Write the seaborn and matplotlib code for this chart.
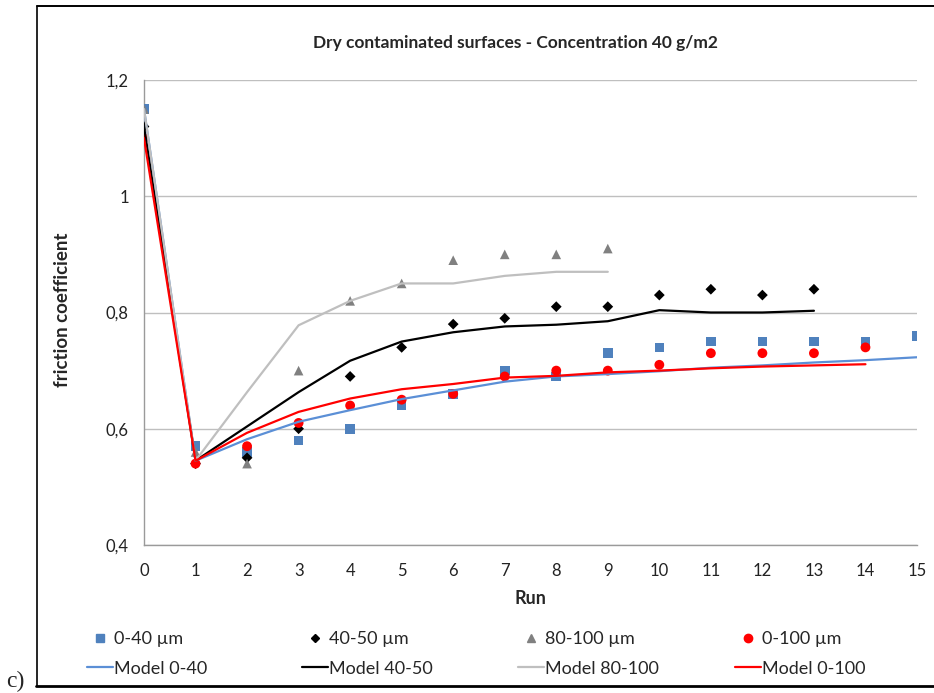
import matplotlib
matplotlib.use("Agg")
import matplotlib.pyplot as plt
from matplotlib.lines import Line2D
import seaborn as sns
import pandas as pd
import numpy as np

# ---------------- data ----------------
runs_040 = list(range(0, 16))
meas_040 = [1.15, 0.57, 0.56, 0.58, 0.60, 0.64, 0.66, 0.70, 0.69, 0.73, 0.74, 0.75, 0.75, 0.75, 0.75, 0.76]
model_040 = [1.15, 0.545, 0.582, 0.612, 0.632, 0.651, 0.666, 0.681, 0.690, 0.694, 0.699, 0.705, 0.709, 0.714, 0.718, 0.723]

runs_4050 = list(range(0, 14))
meas_4050 = [1.12, 0.54, 0.55, 0.60, 0.69, 0.74, 0.78, 0.79, 0.81, 0.81, 0.83, 0.84, 0.83, 0.84]
model_4050 = [1.12, 0.545, 0.604, 0.663, 0.717, 0.750, 0.766, 0.776, 0.779, 0.785, 0.804, 0.800, 0.800, 0.803]

runs_80100 = list(range(0, 10))
meas_80100 = [1.15, 0.56, 0.54, 0.70, 0.82, 0.85, 0.89, 0.90, 0.90, 0.91]
model_80100 = [1.15, 0.545, 0.663, 0.778, 0.820, 0.850, 0.850, 0.863, 0.870, 0.870]

runs_0100 = list(range(0, 15))
meas_0100 = [1.10, 0.54, 0.57, 0.61, 0.64, 0.65, 0.66, 0.69, 0.70, 0.70, 0.71, 0.73, 0.73, 0.73, 0.74]
model_0100 = [1.10, 0.545, 0.593, 0.629, 0.652, 0.668, 0.677, 0.688, 0.691, 0.697, 0.700, 0.704, 0.707, 0.709, 0.711]

meas_labels = ["0-40 µm", "40-50 µm", "80-100 µm", "0-100 µm"]
model_labels = ["Model 0-40", "Model 40-50", "Model 80-100", "Model 0-100"]
yticks = [0.4, 0.6, 0.8, 1.0, 1.2]
ytick_labels = ["0,4", "0,6", "0,8", "1", "1,2"]
xticks = list(range(0, 16))

title = "Dry contaminated surfaces - Concentration 40 g/m2"

# ---------------- styling ----------------
sns.set_theme(style="white")
plt.rcParams["font.family"] = ["Lato", "DejaVu Sans"]

meas_colors = ["#4F81BD", "#000000", "#808080", "#FF0000"]
model_colors = ["#5B8FD6", "#000000", "#BFBFBF", "#FF0000"]
markers = ["s", "D", "^", "o"]
msizes = [48, 30, 48, 50]

fig = plt.figure(figsize=(9.34, 6.93), dpi=100)
W, H = 934, 693
ax = fig.add_axes([144 / W, 1 - 545 / H, (917 - 144) / W, (545 - 80) / H])

meas_sets = [(runs_040, meas_040), (runs_4050, meas_4050), (runs_80100, meas_80100), (runs_0100, meas_0100)]
model_sets = [(runs_040, model_040), (runs_4050, model_4050), (runs_80100, model_80100), (runs_0100, model_0100)]

for i, (xs, ys) in enumerate(meas_sets):
    df = pd.DataFrame({"Run": xs, "mu": ys})
    sns.scatterplot(data=df, x="Run", y="mu", ax=ax, marker=markers[i], s=msizes[i],
                    color=meas_colors[i], edgecolor="none", linewidth=0, zorder=3 + i)

for i, (xs, ys) in enumerate(model_sets):
    df = pd.DataFrame({"Run": xs, "mu": ys})
    sns.lineplot(data=df, x="Run", y="mu", ax=ax, color=model_colors[i], lw=1.6, zorder=8 + i)

ax.set_xlim(0, 15)
ax.set_ylim(0.4, 1.2)
ax.set_xticks(xticks)
ax.set_xticklabels([str(t) for t in xticks])
ax.set_yticks(yticks)
ax.set_yticklabels(ytick_labels)
ax.set_xlabel("Run", fontsize=13, fontweight="bold", labelpad=8)
ax.set_ylabel("")
fig.text(63 / W, 1 - 310 / H, "friction coefficient", rotation=90, ha="center", va="center",
         fontsize=13.5, fontweight="bold")
ax.yaxis.grid(True, color="#BFBFBF", lw=1.0)
ax.xaxis.grid(False)
for s in ["top", "right"]:
    ax.spines[s].set_visible(False)
for s in ["left", "bottom"]:
    ax.spines[s].set_color("#9A9A9A")
    ax.spines[s].set_linewidth(1.0)
ax.tick_params(axis="both", which="both", direction="out", length=5, width=1,
               color="#9A9A9A", labelsize=12, labelcolor="#222222")
ax.tick_params(axis="x", pad=8)
ax.tick_params(axis="y", pad=6)

fig.text(515 / W, 1 - 43 / H, title, ha="center", va="center", fontsize=12.5, fontweight="bold")

# legend: four columns, each with marker entry above line entry
col_x = [87, 302, 518, 735]
for i in range(4):
    h1 = Line2D([], [], marker=markers[i], color=meas_colors[i], linestyle="none",
                markersize=6 if markers[i] != "D" else 4.5)
    h2 = Line2D([], [], color=model_colors[i], lw=1.6)
    fig.legend([h1, h2], [meas_labels[i], model_labels[i]],
               loc="upper left", bbox_to_anchor=(col_x[i] / W, 1 - 631 / H),
               frameon=False, fontsize=13, handlelength=1.42, handletextpad=0.05,
               labelspacing=0.75, borderaxespad=0, borderpad=0)

# outer chart frame
fig.add_artist(Line2D([37 / W, 37 / W], [1 - 686 / H, 1 - 6 / H], color="black", lw=1.2,
                      transform=fig.transFigure))
fig.add_artist(Line2D([37 / W, 1.0], [1 - 6 / H, 1 - 6 / H], color="black", lw=1.4,
                      transform=fig.transFigure))
fig.add_artist(Line2D([36 / W, 1.0], [1 - 686 / H, 1 - 686 / H], color="black", lw=2.0,
                      transform=fig.transFigure))
fig.text(6 / W, 1 - 681 / H, "c)", ha="left", va="center", fontsize=17,
         family=["Liberation Serif", "DejaVu Serif"])

fig.savefig("out.png", dpi=100)
